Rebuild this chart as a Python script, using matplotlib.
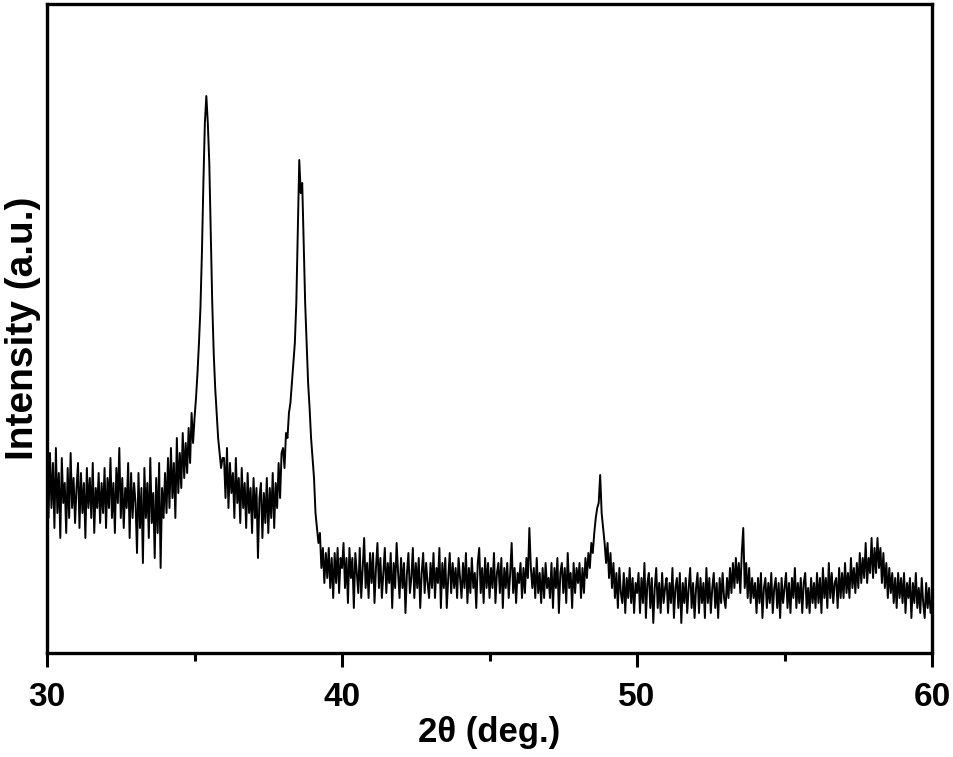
import numpy as np
import matplotlib
matplotlib.use("Agg")
import matplotlib.pyplot as plt

# 2-theta scan grid (start, step) and intensities (a.u.)
two_theta_start = 30.0
two_theta_step = 0.05

i_30 = [175, 135, 200, 145, 190, 125, 205, 140, 180, 115, 195, 150, 170, 120, 185, 135, 200, 145, 175, 130]
i_31 = [165, 190, 125, 180, 140, 170, 115, 185, 145, 175, 135, 190, 120, 165, 145, 180, 130, 170, 140, 185]
i_32 = [125, 175, 145, 195, 135, 170, 120, 185, 150, 205, 135, 175, 125, 165, 145, 190, 115, 180, 135, 170]
i_33 = [150, 100, 180, 125, 165, 90, 185, 135, 170, 115, 195, 130, 160, 95, 175, 120, 190, 85, 165, 135]
i_34 = [180, 140, 195, 145, 205, 155, 190, 135, 215, 160, 200, 165, 220, 175, 210, 180, 225, 190, 240, 210]
i_35 = [235, 255, 280, 310, 345, 400, 470, 530, 557, 530, 490, 420, 350, 300, 265, 240, 215, 200, 185, 195]
i_36 = [195, 155, 205, 145, 190, 160, 180, 135, 195, 150, 175, 130, 185, 145, 170, 125, 180, 140, 165, 120]
i_37 = [175, 135, 165, 95, 155, 170, 115, 160, 130, 175, 120, 165, 135, 180, 125, 170, 145, 190, 155, 200]
i_38 = [205, 185, 220, 215, 240, 250, 270, 290, 310, 350, 420, 493, 460, 470, 410, 350, 310, 270, 245, 215]
i_39 = [195, 175, 140, 125, 110, 120, 85, 105, 70, 100, 75, 105, 65, 95, 55, 100, 70, 105, 60, 95]
i_40 = [85, 110, 65, 95, 50, 105, 75, 95, 45, 100, 80, 60, 105, 55, 85, 115, 65, 90, 55, 100]
i_41 = [70, 100, 50, 85, 110, 65, 95, 55, 80, 105, 60, 90, 70, 100, 45, 90, 65, 110, 80, 55]
i_42 = [95, 65, 90, 40, 80, 100, 60, 75, 105, 55, 90, 65, 95, 45, 80, 100, 60, 90, 70, 55]
i_43 = [90, 65, 100, 55, 85, 70, 105, 45, 90, 65, 95, 45, 75, 100, 60, 90, 65, 85, 55, 95]
i_44 = [75, 55, 90, 65, 100, 50, 85, 60, 95, 65, 80, 45, 90, 105, 60, 85, 50, 95, 65, 90]
i_45 = [55, 85, 65, 100, 50, 80, 90, 60, 95, 45, 85, 65, 90, 55, 80, 110, 60, 85, 50, 80]
i_46 = [70, 90, 55, 85, 60, 95, 75, 125, 85, 65, 85, 55, 95, 60, 80, 50, 85, 55, 90, 65]
i_47 = [75, 55, 90, 45, 85, 65, 95, 40, 80, 90, 60, 85, 50, 100, 65, 80, 45, 90, 60, 85]
i_48 = [70, 90, 55, 85, 60, 95, 75, 100, 85, 110, 100, 120, 135, 145, 150, 178, 140, 125, 110, 90]
i_49 = [110, 75, 100, 65, 90, 55, 80, 45, 85, 60, 50, 80, 40, 75, 55, 85, 50, 75, 40, 70]
i_50 = [60, 80, 40, 75, 50, 90, 35, 70, 80, 45, 75, 30, 65, 85, 45, 70, 40, 80, 50, 65]
i_51 = [75, 40, 70, 50, 85, 35, 65, 75, 45, 80, 30, 70, 50, 75, 40, 65, 85, 45, 70, 35]
i_52 = [65, 80, 40, 75, 50, 70, 35, 85, 50, 75, 40, 65, 80, 45, 70, 35, 75, 50, 80, 55]
i_53 = [45, 75, 55, 85, 60, 90, 65, 95, 70, 90, 60, 100, 125, 65, 90, 55, 85, 50, 75, 55]
i_54 = [70, 40, 75, 50, 80, 35, 65, 75, 45, 70, 50, 80, 40, 65, 75, 45, 70, 35, 75, 50]
i_55 = [65, 80, 45, 70, 40, 75, 55, 85, 45, 70, 50, 75, 40, 70, 80, 45, 65, 40, 75, 50]
i_56 = [70, 45, 80, 50, 75, 40, 85, 55, 75, 45, 90, 55, 80, 50, 70, 75, 45, 85, 55, 80]
i_57 = [55, 90, 60, 80, 55, 95, 65, 85, 60, 90, 65, 100, 70, 95, 75, 110, 70, 95, 80, 115]
i_58 = [75, 105, 80, 115, 85, 105, 70, 100, 65, 90, 55, 85, 60, 80, 50, 75, 45, 80, 55, 75]
i_59 = [50, 80, 40, 70, 55, 75, 35, 70, 50, 80, 45, 65, 40, 75, 50, 35, 70, 45, 65, 40]
i_60 = [55]

intensity = np.array(i_30 + i_31 + i_32 + i_33 + i_34 + i_35 + i_36 + i_37 + i_38 + i_39
                     + i_40 + i_41 + i_42 + i_43 + i_44 + i_45 + i_46 + i_47 + i_48 + i_49
                     + i_50 + i_51 + i_52 + i_53 + i_54 + i_55 + i_56 + i_57 + i_58 + i_59
                     + i_60, dtype=float)
two_theta = two_theta_start + two_theta_step * np.arange(len(intensity))

major_ticks = [30, 40, 50, 60]
minor_ticks = [35, 45, 55]

plt.rcParams['font.family'] = ['Liberation Sans', 'DejaVu Sans']
plt.rcParams['font.weight'] = 'bold'

fig = plt.figure(figsize=(9.54, 7.57), dpi=100)
ax = fig.add_axes([0.0493, 0.1374, 0.9277, 0.8573])
ax.plot(two_theta, intensity, color='black', linewidth=1.4)

ax.set_xlim(30, 60)
ax.set_ylim(0, 649)
ax.set_xticks(major_ticks)
ax.set_xticks(minor_ticks, minor=True)
ax.set_xticklabels([str(t) for t in major_ticks], fontsize=24, fontweight='bold')
ax.set_yticks([])
ax.tick_params(axis='x', which='major', direction='out', length=10, width=2.2, pad=11)
ax.tick_params(axis='x', which='minor', direction='out', length=6, width=2.2)
for s in ax.spines.values():
    s.set_linewidth(2.4)

ax.set_xlabel('2θ (deg.)', fontsize=25, fontweight='bold', labelpad=2)
ax.set_ylabel('Intensity (a.u.)', fontsize=28, fontweight='bold', labelpad=4)

fig.savefig('out.png', dpi=100)
